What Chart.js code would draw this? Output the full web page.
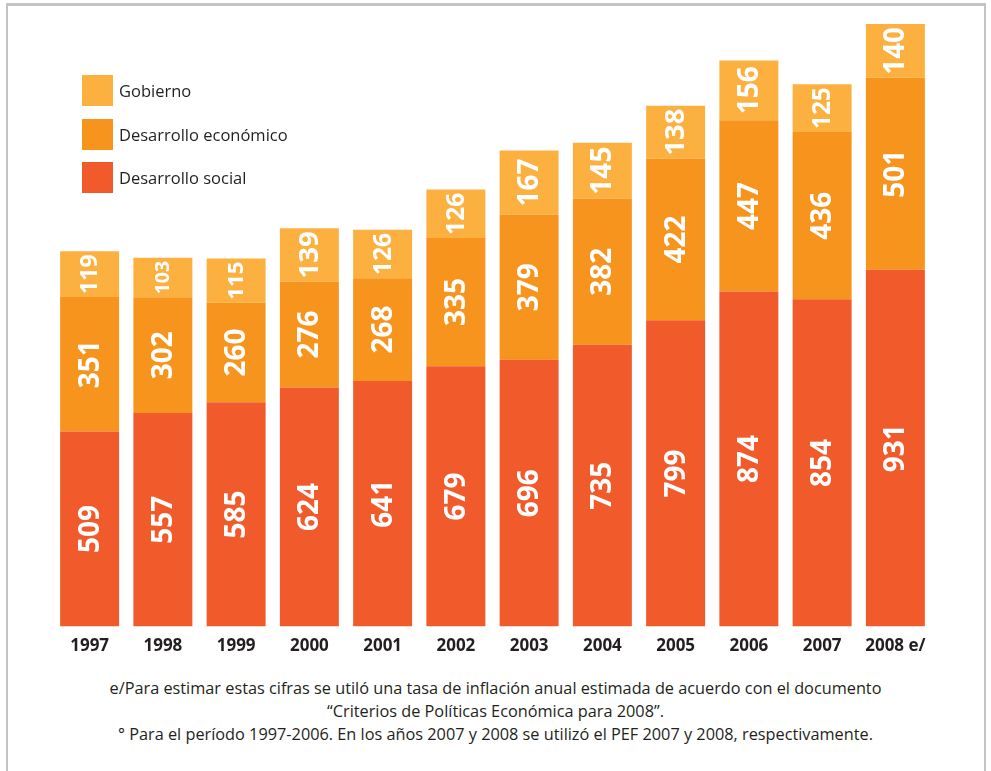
<!DOCTYPE html>
<html>
<head>
<meta charset="utf-8">
<script src="https://cdn.jsdelivr.net/npm/chart.js@4.4.1/dist/chart.umd.min.js"></script>
<style>
  html, body { margin: 0; padding: 0; background: #fff; }
  body { width: 991px; height: 771px; position: relative; overflow: hidden; font-family: "Open Sans", sans-serif; }
  #frame { position: absolute; left: 6px; top: 3px; width: 980px; height: 800px;
           border-top: 3px solid #c4c4c6; border-left: 2px solid #c4c4c6; border-right: 2px solid #c4c4c6; box-sizing: border-box; }
  #wrap { position: absolute; left: 0; top: 0; width: 991px; height: 669px; }
  #legend { position: absolute; left: 82px; top: 75px; }
  .item { display: flex; align-items: center; height: 31px; margin-bottom: 12.5px; }
  .sw { width: 31px; height: 31px; margin-right: 6px; }
  .lt { font-size: 16.5px; color: #231f20; }
  #foot { position: absolute; left: 0; width: 991px; top: 677px; text-align: center; color: #231f20;
          font-size: 16.3px; line-height: 23px; }
</style>
</head>
<body>
<div id="frame"></div>
<div id="wrap"><canvas id="c"></canvas></div>
<div id="legend"></div>
<div id="foot">
  <div>e/Para estimar estas cifras se utiló una tasa de inflación anual estimada de acuerdo con el documento</div>
  <div>“Criterios de Políticas Económica para 2008”.</div>
  <div>° Para el período 1997-2006. En los años 2007 y 2008 se utilizó el PEF 2007 y 2008, respectivamente.</div>
</div>
<script>
const years = ["1997","1998","1999","2000","2001","2002","2003","2004","2005","2006","2007","2008 e/"];
const desarrolloSocial    = [509, 557, 585, 624, 641, 679, 696, 735, 799, 874, 854, 931];
const desarrolloEconomico = [351, 302, 260, 276, 268, 335, 379, 382, 422, 447, 436, 501];
const gobierno            = [119, 103, 115, 139, 126, 126, 167, 145, 138, 156, 125, 140];

const seriesNames = ["Desarrollo social", "Desarrollo económico", "Gobierno"];
const colors = ["#f15a2b", "#f7941e", "#fbb040"];

const totals = years.map((_, i) => desarrolloSocial[i] + desarrolloEconomico[i] + gobierno[i]);
const maxTotal = Math.max(...totals);

const barLabels = {
  id: 'barLabels',
  afterDatasetsDraw(chart) {
    const ctx = chart.ctx;
    chart.data.datasets.forEach((ds, di) => {
      const meta = chart.getDatasetMeta(di);
      meta.data.forEach((bar, i) => {
        const txt = String(ds.data[i]);
        const top = Math.min(bar.y, bar.base), bot = Math.max(bar.y, bar.base);
        const h = bot - top;
        let size = 28;
        ctx.save();
        ctx.font = `bold ${size}px "Open Sans", sans-serif`;
        let w = ctx.measureText(txt).width;
        if (w > h - 6) { size = Math.max(10, size * (h - 6) / w); }
        ctx.font = `bold ${size}px "Open Sans", sans-serif`;
        ctx.translate(bar.x, (top + bot) / 2);
        ctx.rotate(-Math.PI / 2);
        ctx.fillStyle = '#ffffff';
        ctx.textAlign = 'center';
        ctx.textBaseline = 'middle';
        ctx.fillText(txt, 0, 1);
        ctx.restore();
      });
    });
  }
};

const chart = new Chart(document.getElementById('c'), {
  type: 'bar',
  data: {
    labels: years,
    datasets: [
      { label: seriesNames[0], data: desarrolloSocial, backgroundColor: colors[0] },
      { label: seriesNames[1], data: desarrolloEconomico, backgroundColor: colors[1] },
      { label: seriesNames[2], data: gobierno, backgroundColor: colors[2] }
    ]
  },
  options: {
    responsive: true,
    maintainAspectRatio: false,
    animation: false,
    layout: { padding: { left: 53, right: 59, top: 24, bottom: 4 } },
    datasets: { bar: { barPercentage: 0.805, categoryPercentage: 1.0, borderWidth: 0 } },
    plugins: { legend: { display: false }, tooltip: { enabled: false } },
    scales: {
      x: {
        stacked: true,
        grid: { display: false, drawTicks: false, tickLength: 0 },
        border: { display: false },
        ticks: { color: '#231f20', padding: 9, maxRotation: 0, autoSkip: false,
                 font: { family: '"Open Sans", sans-serif', size: 17, weight: 'bold' } }
      },
      y: {
        stacked: true, display: false, min: 0, max: maxTotal,
        grid: { display: false }
      }
    }
  },
  plugins: [barLabels]
});

const legend = document.getElementById('legend');
chart.data.datasets.slice().reverse().forEach(ds => {
  const d = document.createElement('div');
  d.className = 'item';
  d.innerHTML = `<div class="sw" style="background:${ds.backgroundColor}"></div><div class="lt">${ds.label}</div>`;
  legend.appendChild(d);
});
</script>
</body>
</html>
